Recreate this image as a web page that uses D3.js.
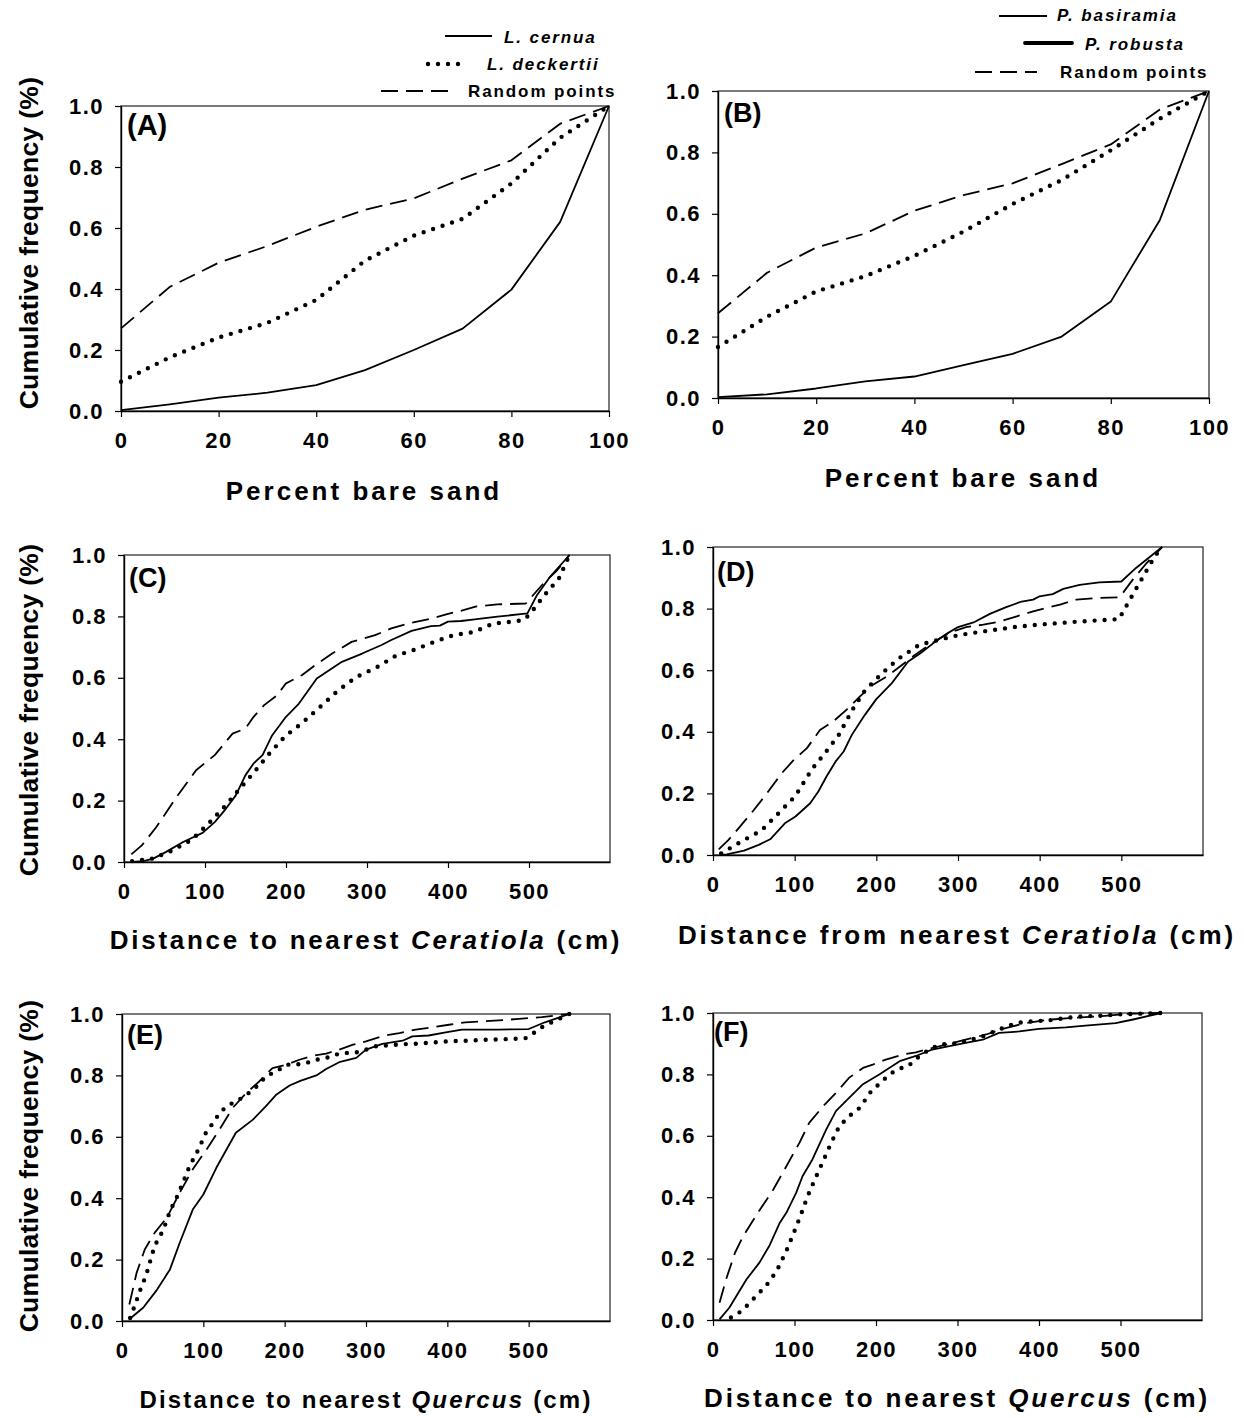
<!DOCTYPE html>
<html><head><meta charset="utf-8">
<script src="https://cdn.jsdelivr.net/npm/d3@7"></script>
<style>body{margin:0;background:#fff}svg{display:block}text{font-family:"Liberation Sans",Arial,sans-serif;font-weight:bold;fill:#000}</style>
</head><body>
<script>
// ---------- DATA ----------
const sandX = [0,10,20,30,40,50,60,70,80,90,100];
const A_cernua    = [0.003,0.022,0.044,0.060,0.085,0.134,0.200,0.270,0.398,0.620,1.0];
const A_deckertii = [0.096,0.176,0.241,0.289,0.364,0.493,0.575,0.630,0.746,0.896,1.0];
const A_random    = [0.271,0.407,0.486,0.541,0.604,0.660,0.697,0.762,0.822,0.942,1.0];
const B_basiramia = [0.003,0.012,0.031,0.054,0.070,0.107,0.144,0.200,0.314,0.580,1.0];
const B_robusta   = [0.166,0.265,0.347,0.397,0.463,0.542,0.632,0.710,0.807,0.910,1.0];
const B_random    = [0.276,0.408,0.490,0.536,0.610,0.661,0.699,0.762,0.826,0.940,1.0];

const C_solid = [[10,0],[24,0.003],[36,0.011],[52,0.033],[73,0.065],[97,0.095],[112,0.13],[126,0.174],[138,0.217],[150,0.283],[160,0.321],[171,0.348],[183,0.413],[200,0.473],[216,0.516],[238,0.598],[269,0.652],[294,0.679],[318,0.707],[330,0.723],[355,0.753],[379,0.768],[390,0.77],[400,0.783],[416,0.785],[433,0.79],[461,0.799],[498,0.81],[510,0.87],[526,0.929],[550,1.0]];
const C_dotted = [[10,0.003],[35,0.011],[60,0.038],[84,0.073],[105,0.127],[125,0.183],[143,0.239],[162,0.297],[180,0.355],[199,0.41],[220,0.453],[242,0.505],[264,0.558],[287,0.603],[312,0.634],[335,0.671],[359,0.692],[383,0.717],[407,0.739],[432,0.749],[456,0.777],[481,0.783],[493,0.788],[501,0.807],[518,0.866],[537,0.924],[550,1.0]];
const C_random = [[9,0.025],[22,0.054],[40,0.114],[65,0.212],[89,0.299],[112,0.348],[124,0.386],[134,0.418],[150,0.435],[160,0.473],[173,0.511],[189,0.543],[200,0.582],[220,0.609],[236,0.641],[257,0.679],[281,0.717],[310,0.739],[330,0.761],[351,0.777],[379,0.793],[400,0.808],[420,0.821],[434,0.832],[461,0.839],[496,0.842],[518,0.908],[535,0.951],[550,1.0]];

const D_solid = [[9,0],[17,0.002],[38,0.014],[56,0.033],[70,0.051],[88,0.103],[101,0.125],[119,0.168],[129,0.206],[139,0.255],[150,0.303],[160,0.336],[170,0.39],[186,0.455],[200,0.506],[219,0.558],[239,0.628],[254,0.655],[270,0.688],[286,0.718],[300,0.74],[319,0.755],[339,0.783],[359,0.805],[378,0.823],[392,0.829],[400,0.84],[416,0.847],[429,0.864],[449,0.877],[473,0.885],[500,0.888],[518,0.932],[550,1.0]];
const D_dotted = [[10,0.005],[34,0.043],[59,0.079],[80,0.135],[101,0.192],[121,0.278],[138,0.334],[154,0.39],[171,0.473],[186,0.534],[207,0.59],[228,0.639],[253,0.683],[277,0.699],[301,0.714],[326,0.724],[350,0.733],[375,0.742],[399,0.748],[424,0.753],[448,0.758],[473,0.762],[497,0.766],[503,0.794],[515,0.85],[528,0.91],[541,0.97],[550,1.0]];
const D_random = [[7,0.018],[19,0.049],[33,0.092],[50,0.146],[66,0.2],[84,0.265],[99,0.309],[115,0.347],[131,0.406],[147,0.433],[164,0.473],[180,0.515],[196,0.553],[213,0.58],[229,0.612],[245,0.645],[262,0.677],[278,0.704],[294,0.726],[310,0.74],[331,0.748],[351,0.758],[372,0.775],[392,0.791],[408,0.802],[425,0.813],[445,0.829],[469,0.834],[498,0.837],[514,0.894],[531,0.948],[550,1.0]];

const E_solid = [[10,0.008],[26,0.043],[42,0.098],[59,0.168],[71,0.255],[87,0.363],[100,0.412],[116,0.499],[140,0.613],[161,0.656],[177,0.7],[190,0.738],[206,0.767],[220,0.783],[239,0.8],[251,0.821],[267,0.843],[288,0.857],[300,0.884],[320,0.903],[345,0.913],[357,0.927],[377,0.93],[398,0.94],[418,0.949],[443,0.949],[463,0.949],[500,0.951],[520,0.973],[550,1.0]];
const E_dotted = [[10,0.01],[14,0.038],[22,0.098],[30,0.152],[40,0.244],[51,0.298],[59,0.358],[69,0.412],[83,0.504],[94,0.559],[104,0.618],[112,0.645],[120,0.678],[130,0.702],[143,0.719],[155,0.741],[167,0.767],[177,0.798],[190,0.813],[202,0.835],[214,0.835],[226,0.84],[239,0.851],[251,0.857],[263,0.868],[275,0.873],[288,0.875],[300,0.884],[312,0.895],[324,0.897],[337,0.9],[349,0.902],[361,0.903],[382,0.907],[402,0.911],[422,0.913],[447,0.916],[471,0.918],[496,0.921],[506,0.938],[518,0.96],[531,0.976],[550,1.0]];
const E_random = [[9,0.054],[18,0.157],[28,0.233],[40,0.287],[55,0.336],[71,0.418],[87,0.494],[104,0.559],[120,0.624],[136,0.694],[153,0.743],[169,0.781],[185,0.824],[202,0.835],[218,0.851],[235,0.864],[251,0.871],[267,0.884],[284,0.9],[300,0.911],[320,0.928],[341,0.938],[361,0.949],[382,0.957],[402,0.965],[422,0.973],[443,0.976],[463,0.979],[488,0.984],[516,0.99],[550,1.0]];

const F_solid = [[8,0.002],[20,0.04],[41,0.132],[57,0.187],[69,0.241],[82,0.317],[90,0.349],[102,0.414],[110,0.469],[122,0.523],[139,0.621],[151,0.681],[163,0.713],[184,0.768],[204,0.8],[229,0.843],[249,0.86],[269,0.881],[290,0.892],[310,0.903],[331,0.913],[351,0.935],[376,0.94],[400,0.948],[433,0.953],[457,0.959],[494,0.967],[514,0.978],[550,1.0]];
const F_dotted = [[22,0.008],[35,0.029],[45,0.056],[55,0.084],[65,0.111],[78,0.159],[90,0.225],[100,0.29],[108,0.344],[116,0.403],[125,0.458],[135,0.517],[145,0.577],[155,0.631],[167,0.664],[180,0.691],[194,0.745],[206,0.774],[216,0.799],[227,0.818],[239,0.826],[251,0.854],[265,0.881],[278,0.897],[294,0.9],[310,0.908],[331,0.924],[351,0.946],[371,0.967],[392,0.973],[412,0.976],[433,0.984],[453,0.989],[474,0.991],[494,0.995],[514,0.997],[550,1.0]];
const F_random = [[8,0.056],[16,0.132],[27,0.219],[37,0.273],[55,0.349],[74,0.425],[90,0.501],[106,0.577],[118,0.642],[135,0.696],[151,0.74],[167,0.789],[184,0.821],[196,0.832],[212,0.848],[233,0.865],[249,0.872],[269,0.886],[286,0.897],[310,0.913],[335,0.93],[359,0.951],[384,0.967],[412,0.978],[441,0.984],[474,0.989],[506,0.997],[550,1.0]];

const yTicks = [0,0.2,0.4,0.6,0.8,1.0];
const sandTicks = [0,20,40,60,80,100];
const distTicks = [0,100,200,300,400,500];
const legendA = ["L. cernua","L. deckertii","Random points"];
const legendB = ["P. basiramia","P. robusta","Random points"];
const yTitle = "Cumulative frequency (%)";

// ---------- DRAW ----------
const W = 1244, H = 1418;
const svg = d3.select("body").append("svg").attr("width",W).attr("height",H);

const zip = (xs, ys) => xs.map((x,i)=>[x,ys[i]]);
const styles = {
  solid:  {w:1.8, dash:null, cap:"butt"},
  dotted: {w:4.4, dash:"0,10", cap:"round"},
  dashed: {w:1.8, dash:"17,8", cap:"butt"},
  thick:  {w:3.8, dash:null, cap:"round"}
};

const panels = [
  {label:"(A)", lf:29, xd:[0,100], xr:[121,609], yr:[411,106], xt:sandTicks, ycy:243,
   title:[{t:"Percent bare sand"}], tx:364, ty:500, tf:26, ls:3,
   series:[[zip(sandX,A_random),"dashed"],[zip(sandX,A_deckertii),"dotted"],[zip(sandX,A_cernua),"solid"]],
   lab:[127,135]},
  {label:"(B)", lf:27, xd:[0,100], xr:[718,1209], yr:[398,91], xt:sandTicks, ycy:null,
   title:[{t:"Percent bare sand"}], tx:963, ty:487, tf:26, ls:3,
   series:[[zip(sandX,B_random),"dashed"],[zip(sandX,B_robusta),"dotted"],[zip(sandX,B_basiramia),"solid"]],
   lab:[724,122]},
  {label:"(C)", lf:27, xd:[0,600], xr:[124,610], yr:[862,555], xt:distTicks, ycy:710,
   title:[{t:"Distance to nearest "},{t:"Ceratiola",i:true},{t:" (cm)"}], tx:366, ty:949, tf:26, ls:2.7,
   series:[[C_random,"dashed"],[C_dotted,"dotted"],[C_solid,"solid"]],
   lab:[129,587]},
  {label:"(D)", lf:27, xd:[0,600], xr:[713,1203], yr:[855,547], xt:distTicks, ycy:null,
   title:[{t:"Distance from nearest "},{t:"Ceratiola",i:true},{t:" (cm)"}], tx:957, ty:944, tf:26, ls:2.9,
   series:[[D_random,"dashed"],[D_dotted,"dotted"],[D_solid,"solid"]],
   lab:[717,581]},
  {label:"(E)", lf:27, xd:[0,600], xr:[122,610], yr:[1321,1014], xt:distTicks, ycy:1166,
   title:[{t:"Distance to nearest "},{t:"Quercus",i:true},{t:" (cm)"}], tx:366, ty:1408, tf:24, ls:2.2,
   series:[[E_random,"dashed"],[E_dotted,"dotted"],[E_solid,"solid"]],
   lab:[127,1044]},
  {label:"(F)", lf:27, xd:[0,600], xr:[713,1202], yr:[1320,1013], xt:distTicks, ycy:null,
   title:[{t:"Distance to nearest "},{t:"Quercus",i:true},{t:" (cm)"}], tx:957, ty:1407, tf:26, ls:2.85,
   series:[[F_random,"dashed"],[F_dotted,"dotted"],[F_solid,"solid"]],
   lab:[714,1041]}
];

panels.forEach(p => {
  const x = d3.scaleLinear().domain(p.xd).range(p.xr);
  const y = d3.scaleLinear().domain([0,1]).range(p.yr);
  const g = svg.append("g");
  // frame
  g.append("rect").attr("x",p.xr[0]).attr("y",p.yr[1])
    .attr("width",p.xr[1]-p.xr[0]).attr("height",p.yr[0]-p.yr[1])
    .attr("fill","none").attr("stroke","#222").attr("stroke-width",1.2);
  // axes
  const ax = g.append("g").attr("transform",`translate(0,${p.yr[0]})`)
    .call(d3.axisBottom(x).tickValues(p.xt).tickFormat(d3.format("d")).tickSizeOuter(0).tickSizeInner(6).tickPadding(9));
  const ay = g.append("g").attr("transform",`translate(${p.xr[0]},0)`)
    .call(d3.axisLeft(y).tickValues(yTicks).tickFormat(d3.format(".1f")).tickSizeOuter(0).tickSizeInner(6).tickPadding(11));
  [ax,ay].forEach(a=>{
    a.select(".domain").attr("stroke","#000").attr("stroke-width",1.4);
    a.selectAll(".tick line").attr("stroke","#000").attr("stroke-width",1.2);
    a.selectAll("text").style("font-size","22px").style("font-weight","bold").style("letter-spacing","1.5px")
      .style("font-family","'Liberation Sans',Arial,sans-serif");
  });
  ax.selectAll("text").attr("dy","1.0em");
  // lines
  const line = d3.line().x(d=>x(d[0])).y(d=>y(d[1]));
  p.series.forEach(([data,st])=>{
    const s = styles[st];
    g.append("path").attr("d",line(data)).attr("fill","none").attr("stroke","#000")
      .attr("stroke-width",s.w).attr("stroke-linecap",s.cap).attr("stroke-linejoin","round")
      .attr("stroke-dasharray",s.dash);
  });
  // panel label
  g.append("text").attr("x",p.lab[0]).attr("y",p.lab[1]).style("font-size",p.lf+"px").text(p.label);
  // x title
  const t = g.append("text").attr("x",p.tx).attr("y",p.ty).attr("text-anchor","middle")
    .style("font-size",p.tf+"px").style("letter-spacing",p.ls+"px");
  p.title.forEach(part=>t.append("tspan").style("font-style",part.i?"italic":"normal").text(part.t));
  // y title
  if (p.ycy !== null) {
    g.append("text").attr("transform",`translate(38,${p.ycy}) rotate(-90)`).attr("text-anchor","middle")
      .style("font-size","26.5px").style("letter-spacing","0.3px").text(yTitle);
  }
});

// legends
function legend(items, rows) {
  rows.forEach((r,i)=>{
    const s = styles[r.st];
    svg.append("line").attr("x1",r.x1).attr("x2",r.x2).attr("y1",r.ly).attr("y2",r.ly)
      .attr("stroke","#000").attr("stroke-width",s.w).attr("stroke-dasharray",s.dash).attr("stroke-linecap",s.cap);
    svg.append("text").attr("x",r.tx).attr("y",r.ty).style("font-size","17px")
      .style("font-style",r.it?"italic":"normal").style("letter-spacing","1.9px").text(items[i]);
  });
}
legend(legendA, [
  {st:"solid", x1:445,x2:492,ly:36, tx:504,ty:43, it:true},
  {st:"dotted",x1:428,x2:468,ly:64, tx:487,ty:70, it:true},
  {st:"dashed",x1:381,x2:448,ly:91, tx:468,ty:97, it:false}
]);
legend(legendB, [
  {st:"solid", x1:999,x2:1047,ly:16, tx:1057,ty:21, it:true},
  {st:"thick", x1:1025,x2:1072,ly:43, tx:1085,ty:50, it:true},
  {st:"dashed",x1:975,x2:1037,ly:72, tx:1060,ty:78, it:false}
]);
</script>
</body></html>
